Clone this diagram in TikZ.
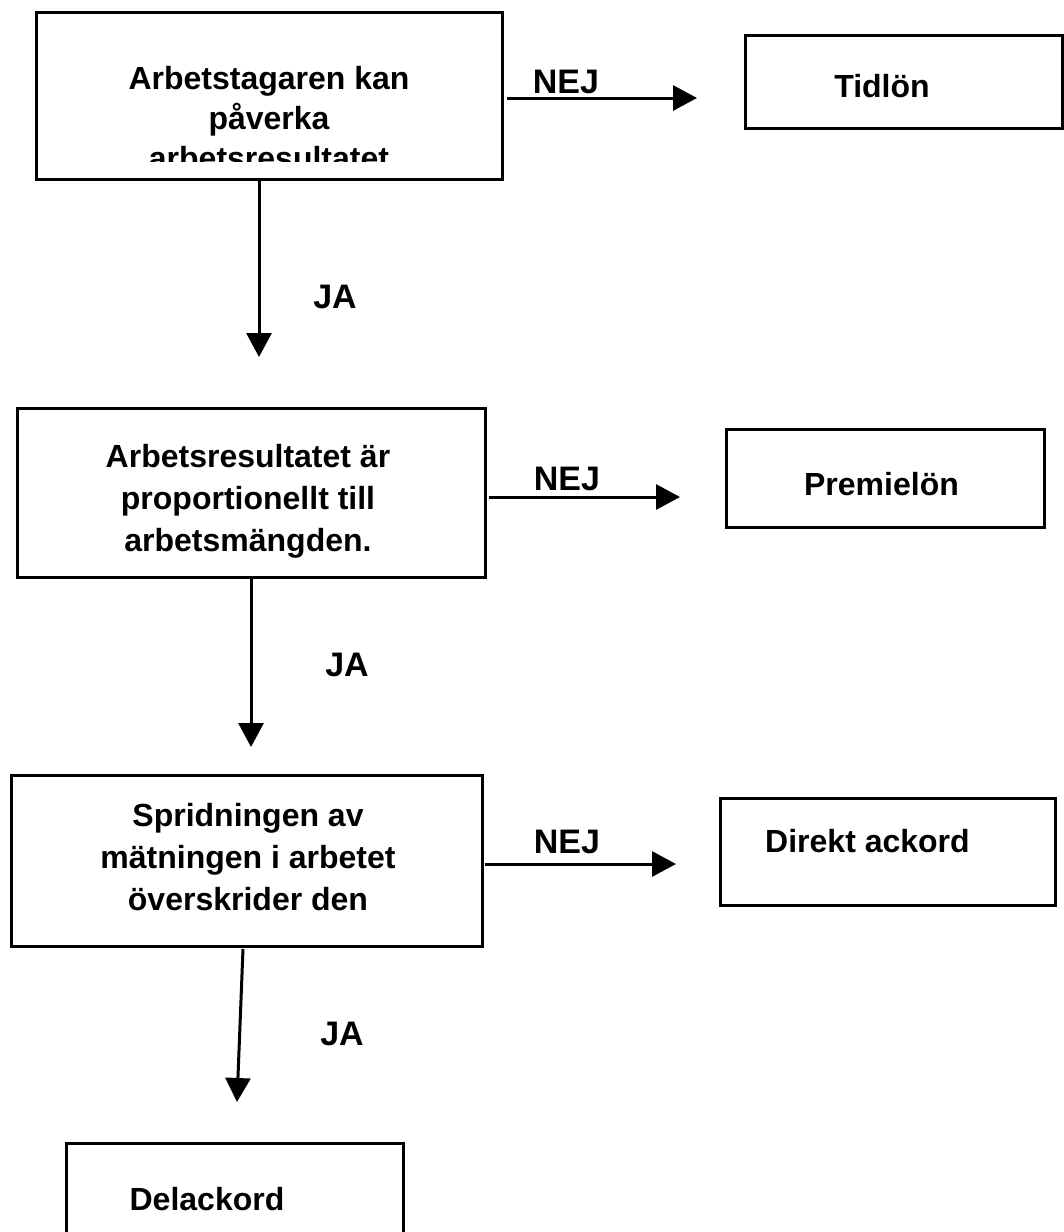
\documentclass[tikz,border=0pt]{standalone}
\usepackage{fontspec}
\setmainfont{Liberation Sans}
\usetikzlibrary{arrows.meta}
\tikzset{
  box/.style={draw, line width=3pt, inner sep=0pt, outer sep=0pt},
  boxtext/.style={inner sep=0pt, align=center, font=\bfseries\fontsize{32}{42}\selectfont},
  boxtextA/.style={inner sep=0pt, align=center, font=\bfseries\fontsize{32}{40}\selectfont},
  single/.style={inner sep=0pt, anchor=base, font=\bfseries\fontsize{32}{38}\selectfont},
  lab/.style={inner sep=0pt, anchor=base, font=\bfseries\fontsize{34}{40}\selectfont},
  arr/.style={line width=3pt, -{Triangle[length=24pt,width=25pt]}}
}
\begin{document}
\begin{tikzpicture}[x=1pt,y=-1pt]
\clip (0,0) rectangle (1064,1232);
\fill[white] (0,0) rectangle (1064,1232);

% boxes
\node[box, minimum width=466pt, minimum height=167pt] (b1) at (269,95.5) {};
\node[box, minimum width=317pt, minimum height=93pt] (r1) at (903.5,81.5) {};
\node[box, minimum width=468pt, minimum height=169pt] (b2) at (251,492.5) {};
\node[box, minimum width=318pt, minimum height=98pt] (r2) at (885,478) {};
\node[box, minimum width=335pt, minimum height=107pt] (r3) at (887.5,851.5) {};
\node[box, minimum width=471pt, minimum height=171pt] (b3) at (246.5,860.5) {};
\node[box, minimum width=337pt, minimum height=137pt] (b4) at (234.5,1211.5) {};

% texts
\begin{scope}
  \clip (36,12) rectangle (502,161);
  \node[boxtextA] (t1) at (269,118) {Arbetstagaren kan\\påverka\\arbetsresultatet};
\end{scope}
\node[boxtext] (t2) at (248,501) {Arbetsresultatet är\\proportionellt till\\arbetsmängden.};
\node[boxtext] (t3) at (248,857) {Spridningen av\\mätningen i arbetet\\överskrider den};
\node[single] (s1) at (882,97) {Tidlön};
\node[single] (s2) at (881.5,495) {Premielön};
\node[single] (s3) at (867.5,852) {Direkt ackord};
\node[single] (s4) at (207,1210) {Delackord};

% labels
\node[lab] (nej1) at (566,93) {NEJ};
\node[lab] (nej2) at (567,490) {NEJ};
\node[lab] (nej3) at (567,853) {NEJ};
\node[lab] (ja1) at (335,308) {JA};
\node[lab] (ja2) at (347,676) {JA};
\node[lab] (ja3) at (342,1045) {JA};

% free arrow ends
\coordinate (e1) at (697,98);
\coordinate (e2) at (680,497);
\coordinate (e3) at (676,864);
\coordinate (d1) at (259,357);
\coordinate (d2) at (251,747);
\coordinate (d3) at (237,1102);

% connectors
\draw[arr] ([shift={(5,2.5)}]b1.east) -- (e1);
\draw[arr] ([shift={(4,4.5)}]b2.east) -- (e2);
\draw[arr] ([shift={(3,3.5)}]b3.east) -- (e3);
\draw[arr] ([shift={(-10,0)}]b1.south) -- (d1);
\draw[arr] (b2.south) -- (d2);
\draw[arr] ([shift={(-3.5,3)}]b3.south) -- (d3);
\end{tikzpicture}
\end{document}
